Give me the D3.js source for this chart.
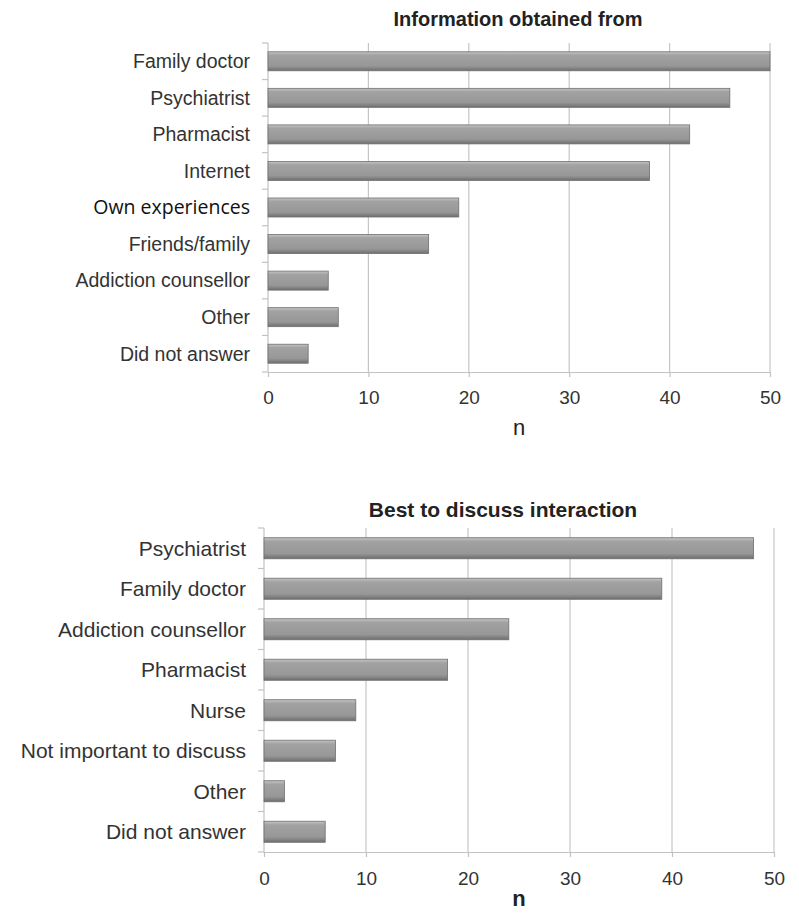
<!DOCTYPE html>
<html>
<head>
<meta charset="utf-8">
<script src="https://cdn.jsdelivr.net/npm/d3@7"></script>
<style>
    body { margin: 0; background: #fff; }
    text { font-family: "Liberation Sans", Arial, sans-serif; }
</style>
</head>
<body>
<div id="chart"></div>
<script>
// top panel
const infoCategories = ['Family doctor', 'Psychiatrist', 'Pharmacist', 'Internet', 'Own experiences',
    'Friends/family', 'Addiction counsellor', 'Other', 'Did not answer'];
const infoValues = [50, 46, 42, 38, 19, 16, 6, 7, 4];

// bottom panel
const discussCategories = ['Psychiatrist', 'Family doctor', 'Addiction counsellor', 'Pharmacist', 'Nurse',
    'Not important to discuss', 'Other', 'Did not answer'];
const discussValues = [48, 39, 24, 18, 9, 7, 2, 6];

const xTicks = [0, 10, 20, 30, 40, 50];

const svg = d3.select('#chart').append('svg')
    .attr('width', 799)
    .attr('height', 920);

const defs = svg.append('defs');
const grad = defs.append('linearGradient')
    .attr('id', 'barGrad')
    .attr('x1', 0).attr('y1', 0).attr('x2', 0).attr('y2', 1);
grad.append('stop').attr('offset', '0%').attr('stop-color', '#c4c4c4');
grad.append('stop').attr('offset', '18%').attr('stop-color', '#a2a2a2');
grad.append('stop').attr('offset', '75%').attr('stop-color', '#979797');
grad.append('stop').attr('offset', '100%').attr('stop-color', '#6e6e6e');

function drawPanel(opts) {
    const { categories, values, title, boldN, left, right, top, bottom, titleX, titleY, titleSize,
        labelSize, nY, tickY } = opts;
    const data = categories.map((c, i) => ({ label: c, value: values[i] }));

    const x = d3.scaleLinear().domain([0, 50]).range([left, right]);
    const y = d3.scaleBand().domain(categories).range([top, bottom]).paddingInner(0.48).paddingOuter(0.24);
    const step = (bottom - top) / categories.length;

    const g = svg.append('g');

    // gridlines
    g.selectAll('.grid')
        .data(xTicks.filter(t => t > 0))
        .enter().append('line')
        .attr('x1', d => x(d)).attr('x2', d => x(d))
        .attr('y1', top).attr('y2', bottom)
        .attr('stroke', '#c6c6c6').attr('stroke-width', 1.2);

    // bottom axis
    const xAxis = g.append('g')
        .attr('transform', `translate(0, ${bottom})`)
        .call(d3.axisBottom(x).tickValues(xTicks).tickSize(5).tickSizeOuter(0));
    xAxis.select('.domain').attr('stroke', '#c2c2c2').attr('stroke-width', 1.2);
    xAxis.selectAll('.tick line').attr('stroke', '#c2c2c2').attr('stroke-width', 1.2);
    xAxis.selectAll('.tick text')
        .attr('y', tickY - bottom)
        .attr('dy', '0.35em')
        .style('font-size', '19px')
        .style('fill', '#333');

    // left axis line with boundary ticks
    g.append('line')
        .attr('x1', left).attr('x2', left)
        .attr('y1', top).attr('y2', bottom)
        .attr('stroke', '#c2c2c2').attr('stroke-width', 1.2);
    g.selectAll('.ytick')
        .data(d3.range(categories.length + 1))
        .enter().append('line')
        .attr('x1', left - 6).attr('x2', left)
        .attr('y1', i => top + i * step).attr('y2', i => top + i * step)
        .attr('stroke', '#c2c2c2').attr('stroke-width', 1.2);

    // category labels
    g.selectAll('.cat')
        .data(data)
        .enter().append('text')
        .attr('x', left - 18)
        .attr('y', d => y(d.label) + y.bandwidth() / 2)
        .attr('dy', '0.35em')
        .attr('text-anchor', 'end')
        .style('font-size', labelSize + 'px')
        .style('fill', d => d.label === 'Own experiences' ? '#111' : '#333')
        .style('font-family', d => d.label === 'Own experiences' ? '"Open Sans", "Noto Sans", sans-serif' : null)
        .text(d => d.label);

    // bars
    g.selectAll('.bar')
        .data(data)
        .enter().append('rect')
        .attr('x', x(0))
        .attr('y', d => y(d.label))
        .attr('width', d => x(d.value) - x(0))
        .attr('height', y.bandwidth())
        .attr('fill', 'url(#barGrad)')
        .attr('stroke', '#6f6f6f')
        .attr('stroke-width', 0.8);

    // title
    g.append('text')
        .attr('x', titleX)
        .attr('y', titleY)
        .attr('text-anchor', 'middle')
        .style('font-size', titleSize + 'px')
        .style('font-weight', 'bold')
        .style('fill', '#222')
        .text(title);

    // axis title
    g.append('text')
        .attr('x', (left + right) / 2)
        .attr('y', nY)
        .attr('dy', '0.35em')
        .attr('text-anchor', 'middle')
        .style('font-size', '22px')
        .style('font-weight', boldN ? 'bold' : 'normal')
        .style('fill', '#222')
        .text('n');
}

drawPanel({
    categories: infoCategories, values: infoValues, title: 'Information obtained from', boldN: false,
    left: 268, right: 770, top: 43, bottom: 372, titleX: 518, titleY: 26, titleSize: 20, labelSize: 19.5,
    nY: 427, tickY: 397
});

drawPanel({
    categories: discussCategories, values: discussValues, title: 'Best to discuss interaction', boldN: true,
    left: 264, right: 774, top: 528, bottom: 852, titleX: 503, titleY: 517, titleSize: 21, labelSize: 21,
    nY: 898, tickY: 878
});
</script>
</body>
</html>
